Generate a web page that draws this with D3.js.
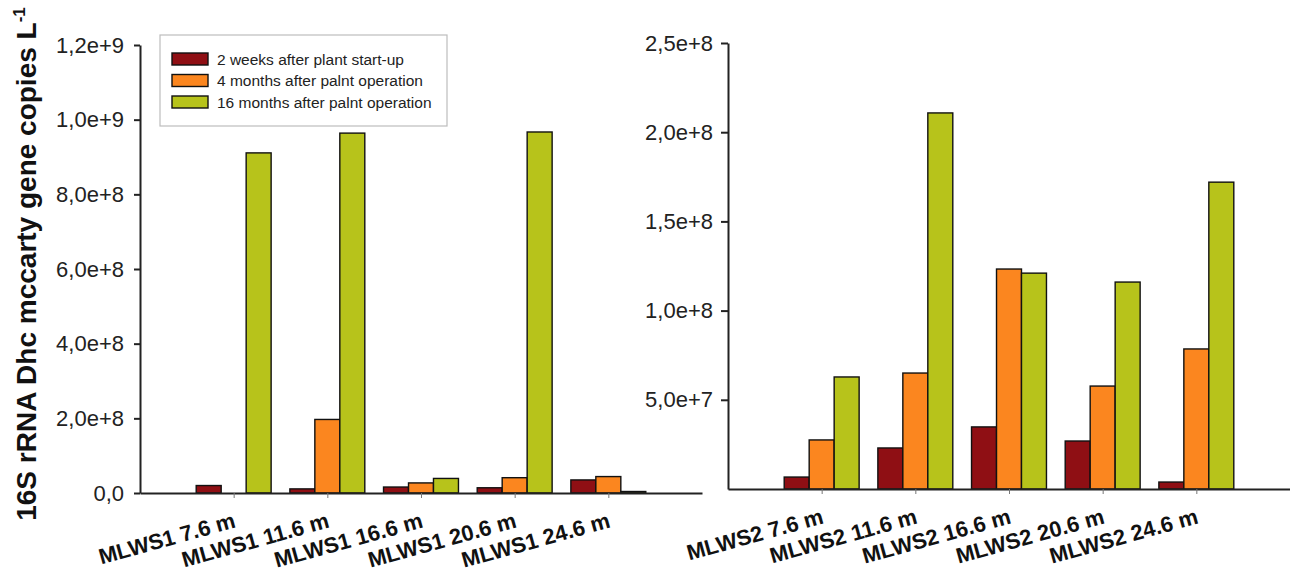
<!DOCTYPE html>
<html>
<head>
<meta charset="utf-8">
<script src="https://cdn.jsdelivr.net/npm/d3@7"></script>
<style>
  body { margin: 0; background: #fff; }
  svg { display: block; font-family: "Liberation Sans", Arial, sans-serif; }
</style>
</head>
<body>
<script>
// categories and values
const leftCats = ["MLWS1 7.6 m", "MLWS1 11.6 m", "MLWS1 16.6 m", "MLWS1 20.6 m", "MLWS1 24.6 m"];
const rightCats = ["MLWS2 7.6 m", "MLWS2 11.6 m", "MLWS2 16.6 m", "MLWS2 20.6 m", "MLWS2 24.6 m"];
const seriesNames = ["2 weeks after plant start-up", "4 months after palnt operation", "16 months after palnt operation"];
const colors = ["#8f0f14", "#fb861f", "#b7c31b"];

const left2weeks = [2.0e7, 1.1e7, 1.6e7, 1.4e7, 3.5e7];
const left4months = [0, 1.97e8, 2.7e7, 4.1e7, 4.4e7];
const left16months = [9.11e8, 9.64e8, 3.9e7, 9.67e8, 4e6];

const right2weeks = [6.7e6, 2.3e7, 3.48e7, 2.69e7, 3.9e6];
const right4months = [2.75e7, 6.5e7, 1.233e8, 5.77e7, 7.85e7];
const right16months = [6.28e7, 2.108e8, 1.21e8, 1.16e8, 1.72e8];

const leftTicks = [0, 2e8, 4e8, 6e8, 8e8, 1e9, 1.2e9];
const rightTicks = [5e7, 1e8, 1.5e8, 2e8, 2.5e8];

const W = 1290, H = 574;

const svg = d3.select("body").append("svg")
  .attr("width", W)
  .attr("height", H);

// "1,2e+9" style labels, zero as "0,0"
const fmt = (v) => v === 0 ? "0,0" : d3.format(".1e")(v).replace(".", ",");

function drawPanel(cats, series, ticks, yMax, x0, x1, yBottom, yTop, tickSize, tickPad) {
  const x = d3.scaleLinear().domain([0, cats.length + 1]).range([x0, x1]);
  const y = d3.scaleLinear().domain([0, yMax]).range([yBottom, yTop]);
  const groupW = (x(1) - x(0)) * 0.8;
  const inner = d3.scaleBand().domain(d3.range(series.length)).range([-groupW / 2, groupW / 2]);

  const g = svg.append("g");

  series.forEach((vals, s) => {
    g.selectAll(null)
      .data(vals.map((v, i) => ({ v, i })).filter(d => d.v > 0))
      .enter()
      .append("rect")
      .attr("x", d => x(d.i + 1) + inner(s))
      .attr("width", inner.bandwidth())
      .attr("y", d => y(d.v))
      .attr("height", d => y(0) - y(d.v))
      .attr("fill", colors[s])
      .attr("stroke", "#111")
      .attr("stroke-width", 1.4);
  });

  // y axis
  const yAxis = g.append("g")
    .attr("transform", "translate(" + x0 + ",0)")
    .call(d3.axisLeft(y).tickValues(ticks).tickFormat(fmt).tickSize(tickSize).tickSizeOuter(0).tickPadding(tickPad));
  yAxis.select(".domain").attr("stroke", "#222").attr("stroke-width", 2);
  yAxis.selectAll(".tick line").attr("stroke", "#222").attr("stroke-width", 2);
  yAxis.selectAll(".tick text")
    .attr("fill", "#222")
    .style("font-size", "22px");

  // x axis
  const xAxis = g.append("g")
    .attr("transform", "translate(0," + yBottom + ")")
    .call(d3.axisBottom(x).tickValues(d3.range(1, cats.length + 1)).tickFormat("").tickSize(5).tickSizeOuter(0));
  xAxis.select(".domain").attr("stroke", "#222").attr("stroke-width", 2);
  xAxis.selectAll(".tick line").attr("stroke", "#777").attr("stroke-width", 1);

  g.selectAll(null)
    .data(cats)
    .enter()
    .append("text")
    .attr("transform", (d, i) => "translate(" + (x(i + 1) + 3) + "," + (yBottom + 34) + ") rotate(-15.5)")
    .attr("text-anchor", "end")
    .attr("font-weight", "bold")
    .attr("font-size", "22px")
    .attr("fill", "#111")
    .text(d => d);
}

drawPanel(leftCats, [left2weeks, left4months, left16months], leftTicks, 1.2e9, 140, 702, 493, 45, 6, 10);
drawPanel(rightCats, [right2weeks, right4months, right16months], rightTicks, 2.5e8, 728, 1290, 489, 43, 7, 8);

// y axis title
const title = svg.append("text")
  .attr("transform", "translate(36,264) rotate(-90)")
  .attr("text-anchor", "middle")
  .attr("font-weight", "bold")
  .attr("font-size", "28px")
  .attr("fill", "#111");
title.append("tspan").text("16S rRNA Dhc mccarty gene copies L");
title.append("tspan").attr("font-size", "17px").attr("dy", "-11").text("-1");

// legend
const legend = svg.append("g");
legend.append("rect")
  .attr("x", 160).attr("y", 35)
  .attr("width", 287).attr("height", 91)
  .attr("fill", "#fff")
  .attr("stroke", "#bdbdbd")
  .attr("stroke-width", 1.2);

seriesNames.forEach((name, i) => {
  const cy = 59 + i * 21.5;
  legend.append("rect")
    .attr("x", 172).attr("y", cy - 6)
    .attr("width", 36).attr("height", 12)
    .attr("fill", colors[i])
    .attr("stroke", "#111")
    .attr("stroke-width", 1.4);
  legend.append("text")
    .attr("x", 217).attr("y", cy + 5.5)
    .attr("font-size", "15.5px")
    .attr("fill", "#222")
    .text(name);
});
</script>
</body>
</html>
